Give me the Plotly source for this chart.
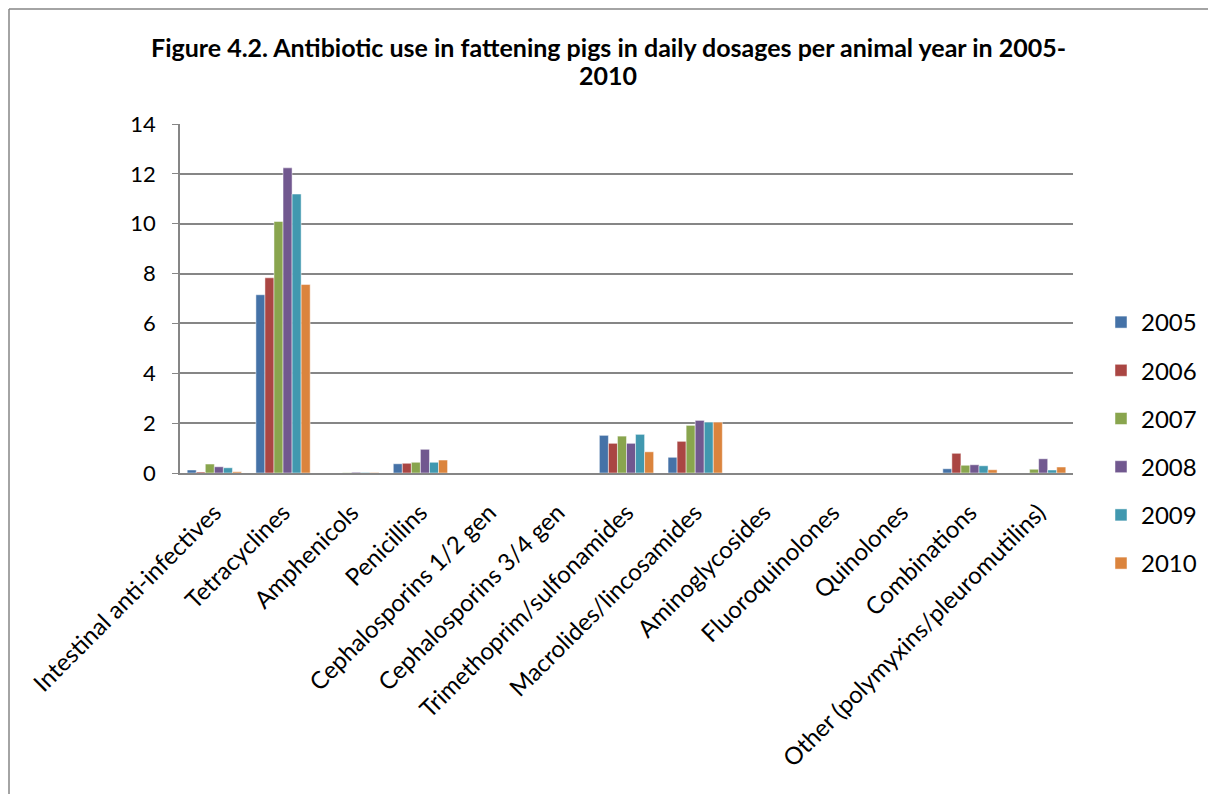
import plotly.graph_objects as go

categories = ["Intestinal anti-infectives", "Tetracyclines", "Amphenicols", "Penicillins",
              "Cephalosporins 1/2 gen", "Cephalosporins 3/4 gen", "Trimethoprim/sulfonamides",
              "Macrolides/lincosamides", "Aminoglycosides", "Fluoroquinolones", "Quinolones",
              "Combinations", "Other (polymyxins/pleuromutilins)"]

y2005 = [0.12, 7.15, 0.0, 0.37, 0, 0, 1.51, 0.63, 0, 0, 0, 0.17, 0.0]
y2006 = [0.04, 7.83, 0.0, 0.39, 0, 0, 1.19, 1.27, 0, 0, 0, 0.79, 0.0]
y2007 = [0.36, 10.09, 0.01, 0.43, 0, 0, 1.48, 1.91, 0, 0, 0, 0.31, 0.15]
y2008 = [0.25, 12.24, 0.03, 0.95, 0, 0, 1.19, 2.11, 0, 0, 0, 0.33, 0.57]
y2009 = [0.21, 11.19, 0.02, 0.43, 0, 0, 1.55, 2.04, 0, 0, 0, 0.29, 0.12]
y2010 = [0.05, 7.56, 0.02, 0.52, 0, 0, 0.85, 2.04, 0, 0, 0, 0.13, 0.24]

years = ["2005", "2006", "2007", "2008", "2009", "2010"]
series = [y2005, y2006, y2007, y2008, y2009, y2010]
colors = ["#4572A7", "#AA4643", "#89A54E", "#71588F", "#4198AF", "#DB843D"]

title_lines = ["Figure 4.2. Antibiotic use in fattening pigs in daily dosages per animal year in 2005-",
               "2010"]

FONT = "Lato, Open Sans, sans-serif"

fig = go.Figure()
for name, vals, col in zip(years, series, colors):
    fig.add_trace(go.Bar(
        x=categories, y=vals, name=name, legendgroup=name,
        marker=dict(color=col, line=dict(color="rgba(255,255,255,0.6)", width=0.8)),
    ))

# page is offset by 8px (body margin); figure coords = page coords - 8
OFF = 8
W, H = 1216, 794
L, T = 180 - OFF, 124 - OFF
R = W - (1073 - OFF)
B = H - (473 - OFF)
pw, ph = W - L - R, H - T - B

def px(X):
    return (X - OFF - L) / pw

def py(Y):
    return (H - B - (Y - OFF)) / ph

annotations = []
for txt, ypage in zip(title_lines, [47, 75]):
    annotations.append(dict(
        text="<b>" + txt + "</b>", xref="paper", yref="paper",
        x=px(608), y=py(ypage), xanchor="center", yanchor="middle", showarrow=False,
        font=dict(family=FONT, size=25, color="black"),
    ))

fig.update_layout(
    width=W, height=H,
    margin=dict(l=L, r=R, t=T, b=B, autoexpand=False),
    paper_bgcolor="white", plot_bgcolor="white",
    font=dict(family=FONT, size=22, color="black"),
    annotations=annotations,
    barmode="group", bargap=0.21, bargroupgap=0.0,
    legend=dict(
        x=px(1101), y=py(300), xanchor="left", yanchor="top",
        font=dict(family=FONT, size=24), traceorder="grouped",
        tracegroupgap=14, itemwidth=30, bgcolor="rgba(0,0,0,0)",
    ),
    xaxis=dict(
        tickangle=-45, showgrid=False, showline=True, linecolor="#868686", linewidth=2,
        ticks="", tickfont=dict(family=FONT, size=24), ticklabelstandoff=14,
    ),
    yaxis=dict(
        range=[0, 14], dtick=2, showgrid=True, gridcolor="#868686", gridwidth=1.5,
        showline=True, linecolor="#868686", linewidth=1.5, ticks="outside", ticklen=6,
        tickcolor="#868686", zeroline=False, tickfont=dict(family=FONT, size=22),
        ticklabelstandoff=12,
    ),
    shapes=[
        dict(type="line", xref="paper", yref="paper", x0=px(9), x1=px(9), y0=py(9), y1=py(820),
             line=dict(color="#868686", width=1.5)),
        dict(type="line", xref="paper", yref="paper", x0=px(9), x1=px(1240), y0=py(9), y1=py(9),
             line=dict(color="#868686", width=1.5)),
    ],
)

fig.write_html("out.html")
